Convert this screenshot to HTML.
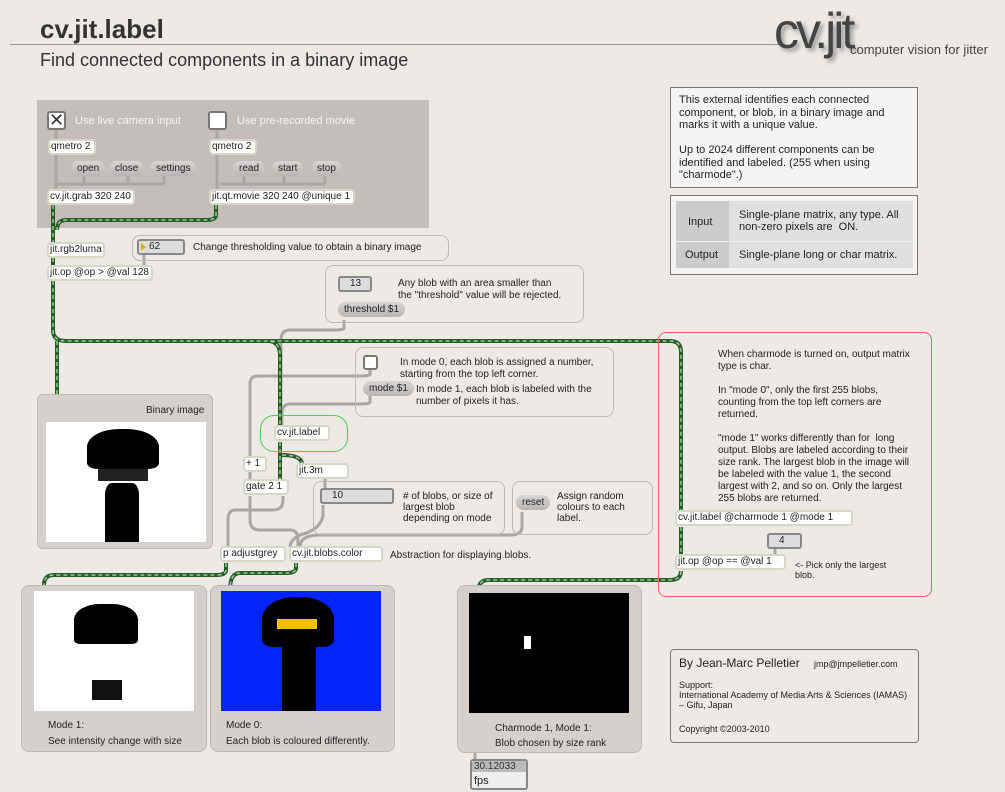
<!DOCTYPE html>
<html><head><meta charset="utf-8"><style>
*{margin:0;padding:0;box-sizing:border-box}
body{width:1005px;height:792px;background:#ede9e5;position:relative;overflow:hidden;font-family:"Liberation Sans",Arial,sans-serif;color:#222}
.a{position:absolute}
.t{position:absolute;font-size:10px;line-height:12px;white-space:nowrap}
.obj{position:absolute;height:16px;background:#fff;border:2px solid #d5d8c4;border-radius:4px;font-size:10px;line-height:12px;padding-left:1px;white-space:nowrap}
.msg{position:absolute;height:15px;background:linear-gradient(#d8d6d4,#b8b5b2);border-radius:8px;font-size:10px;line-height:15px;padding:0 6px;white-space:nowrap}
.num{position:absolute;height:16px;background:#ddd;border:2px solid #888;border-radius:3px;font-size:10px;line-height:12px;padding-left:10px}
.pan{position:absolute;border:1px solid #bbb;border-radius:8px}
.gp{position:absolute;background:#d5d0cc;border:1px solid #bdb8b4;border-radius:8px}
</style></head><body>
<div class="a" style="left:10px;top:44px;width:770px;height:1px;background:#999"></div>
<div class="t" style="left:40px;top:14px;font-size:26px;line-height:30px;font-weight:bold;color:#333">cv.jit.label</div>
<div class="t" style="left:40px;top:50px;font-size:18px;line-height:20px;color:#333">Find connected components in a binary image</div>
<div class="t" style="left:774px;top:3px;font-size:50px;line-height:56px;color:#444;text-shadow:3px 3px 4px #999;letter-spacing:-3px">cv.jit</div>
<div class="t" style="left:850px;top:43px;font-size:13px;line-height:14px;color:#444">computer vision for jitter</div>

<div class="a" style="left:670px;top:87px;width:248px;height:101px;background:#f6f4f2;border:1px solid #777"></div>
<div class="t" style="left:679px;top:94px;font-size:11px;line-height:12.5px">This external identifies each connected<br>component, or blob, in a binary image and<br>marks it with a unique value.<br><br>Up to 2024 different components can be<br>identified and labeled. (255 when using<br>"charmode".)</div>
<div class="a" style="left:670px;top:195px;width:248px;height:80px;background:#f6f4f2;border:1px solid #777"></div>
<div class="a" style="left:676px;top:201px;width:53px;height:67px;background:#ccc"></div>
<div class="a" style="left:729px;top:201px;width:184px;height:67px;background:#e2e0de"></div>
<div class="a" style="left:676px;top:241px;width:237px;height:1px;background:#eee"></div>
<div class="t" style="left:688px;top:216px;font-size:11px">Input</div>
<div class="t" style="left:739px;top:209px;font-size:11px">Single-plane matrix, any type. All<br>non-zero pixels are &nbsp;ON.</div>
<div class="t" style="left:685px;top:249px;font-size:11px">Output</div>
<div class="t" style="left:739px;top:249px;font-size:11px">Single-plane long or char matrix.</div>

<div class="a" style="left:37px;top:100px;width:392px;height:128px;background:#c4bebb"></div>
<div class="a" style="left:47px;top:111px;width:19px;height:19px;background:#fff;border:2px solid #777;border-radius:3px;font-size:18px;line-height:14px;text-align:center;color:#333">✕</div>
<div class="t" style="left:75px;top:115px;font-size:11px;color:#f4f4f4">Use live camera input</div>
<div class="a" style="left:208px;top:111px;width:19px;height:19px;background:#fff;border:2px solid #777;border-radius:3px"></div>
<div class="t" style="left:237px;top:115px;font-size:11px;color:#f4f4f4">Use pre-recorded movie</div>

<svg class="a" style="left:0;top:0" width="1005" height="792">
<g fill="none" stroke="#a9a6a3" stroke-width="3">
<path d="M56 130V189M84 176V182Q84 184 80 184H58M128 176V184M164 176V184M56 184H164"/>
<path d="M217 130V189M244 176V184M284 176V184M325 176V184M220 184H325"/>
<path d="M144 255V265"/>
<path d="M370 369V374Q370 376 360 376H258Q250 376 250 384V456"/>
<path d="M370 396V402Q370 404 360 404H290Q282 404 282 414V426"/>
<path d="M344 320V328Q344 330 334 330H290Q281 330 281 340V426"/>
<path d="M250 472V480M250 496V520Q250 530 260 530H290Q298 530 298 540V547"/>
<path d="M283 496V500Q283 510 273 510H235Q228 510 228 520V547"/>
<path d="M325 479V488M323 505V516Q320 530 300 535Q290 540 290 547"/>
<path d="M522 512V527Q522 535 510 535H320Q300 535 300 547"/>
<path d="M475 712V760"/>
<path d="M775 549V555"/>
</g>
<g fill="none">
<path d="M53 205V242M53 258V265M53 281V330Q53 341 66 341H670Q681 341 681 352V511M681 527V555M216 205V215Q216 220 206 220H66Q57 220 57 230M57 341V422M270 341Q280 343 280 355V426M280 442V480M282 455Q300 455 302 463M226 563V570Q226 575 216 575H54Q44 575 44 585M296 563V568Q296 573 286 573H240Q230 573 230 590M681 571Q681 580 670 580H488Q478 580 478 593" stroke="#2a5a2a" stroke-width="4"/>
<path d="M53 205V242M53 258V265M53 281V330Q53 341 66 341H670Q681 341 681 352V511M681 527V555M216 205V215Q216 220 206 220H66Q57 220 57 230M57 341V422M270 341Q280 343 280 355V426M280 442V480M282 455Q300 455 302 463M226 563V570Q226 575 216 575H54Q44 575 44 585M296 563V568Q296 573 286 573H240Q230 573 230 590M681 571Q681 580 670 580H488Q478 580 478 593" stroke="#8fcf8f" stroke-width="1.5" stroke-dasharray="4 3"/>
</g>
</svg>

<div class="obj" style="left:48px;top:139px;width:48px">qmetro 2</div>
<div class="obj" style="left:209px;top:139px;width:48px">qmetro 2</div>
<div class="msg" style="left:71px;top:161px">open</div>
<div class="msg" style="left:109px;top:161px">close</div>
<div class="msg" style="left:150px;top:161px">settings</div>
<div class="msg" style="left:233px;top:161px">read</div>
<div class="msg" style="left:272px;top:161px">start</div>
<div class="msg" style="left:311px;top:161px">stop</div>
<div class="obj" style="left:47px;top:189px;width:88px">cv.jit.grab 320 240</div>
<div class="obj" style="left:209px;top:189px;width:146px">jit.qt.movie 320 240 @unique 1</div>

<div class="obj" style="left:47px;top:242px;width:58px">jit.rgb2luma</div>
<div class="obj" style="left:47px;top:265px;width:106px">jit.op @op &gt; @val 128</div>
<div class="pan" style="left:132px;top:235px;width:317px;height:26px"></div>
<div class="num" style="left:137px;top:239px;width:48px">62</div>
<div class="a" style="left:141px;top:243px;width:0;height:0;border-left:5px solid #e0b000;border-top:4px solid transparent;border-bottom:4px solid transparent"></div>
<div class="t" style="left:193px;top:242px">Change thresholding value to obtain a binary image</div>

<div class="pan" style="left:325px;top:265px;width:259px;height:58px"></div>
<div class="num" style="left:338px;top:276px;width:34px">13</div>
<div class="msg" style="left:338px;top:302px">threshold $1</div>
<div class="t" style="left:398px;top:278px">Any blob with an area smaller than<br>the "threshold" value will be rejected.</div>

<div class="pan" style="left:355px;top:347px;width:259px;height:70px"></div>
<div class="a" style="left:363px;top:355px;width:15px;height:15px;background:#fff;border:2px solid #777;border-radius:3px"></div>
<div class="msg" style="left:363px;top:381px">mode $1</div>
<div class="t" style="left:400px;top:357px">In mode 0, each blob is assigned a number,<br>starting from the top left corner.</div>
<div class="t" style="left:416px;top:384px">In mode 1, each blob is labeled with the<br>number of pixels it has.</div>

<div class="a" style="left:260px;top:415px;width:88px;height:37px;border:1px solid #5c5;border-radius:14px"></div>
<div class="obj" style="left:274px;top:425px;width:56px">cv.jit.label</div>
<div class="obj" style="left:243px;top:456px;width:24px">+ 1</div>
<div class="obj" style="left:243px;top:479px;width:46px">gate 2 1</div>
<div class="obj" style="left:296px;top:463px;width:53px">jit.3m</div>

<div class="pan" style="left:313px;top:481px;width:192px;height:54px"></div>
<div class="num" style="left:320px;top:488px;width:74px">10</div>
<div class="t" style="left:403px;top:491px;line-height:11px"># of blobs, or size of<br>largest blob<br>depending on mode</div>
<div class="pan" style="left:512px;top:481px;width:141px;height:54px"></div>
<div class="msg" style="left:516px;top:495px">reset</div>
<div class="t" style="left:557px;top:491px;line-height:11px">Assign random<br>colours to each<br>label.</div>

<div class="obj" style="left:220px;top:546px;width:66px">p adjustgrey</div>
<div class="obj" style="left:289px;top:546px;width:94px">cv.jit.blobs.color</div>
<div class="t" style="left:390px;top:550px">Abstraction for displaying blobs.</div>

<div class="gp" style="left:37px;top:394px;width:176px;height:155px;border-radius:6px"></div>
<div class="t" style="left:146px;top:405px">Binary image</div>
<div class="a" style="left:46px;top:422px;width:160px;height:120px;background:#fff"></div>
<div class="a" style="left:87px;top:429px;width:72px;height:40px;background:#000;border-radius:45% 45% 15% 15%"></div>
<div class="a" style="left:98px;top:469px;width:50px;height:12px;background:#222"></div>
<div class="a" style="left:105px;top:483px;width:34px;height:59px;background:#000;border-radius:20% 20% 0 0"></div>

<div class="gp" style="left:21px;top:585px;width:186px;height:167px"></div>
<div class="a" style="left:34px;top:591px;width:160px;height:120px;background:#fff"></div>
<div class="a" style="left:74px;top:604px;width:64px;height:40px;background:#000;border-radius:40% 40% 10% 10%"></div>
<div class="a" style="left:92px;top:680px;width:30px;height:20px;background:#111"></div>
<div class="t" style="left:48px;top:720px">Mode 1:</div>
<div class="t" style="left:48px;top:736px">See intensity change with size</div>

<div class="gp" style="left:210px;top:585px;width:185px;height:167px"></div>
<div class="a" style="left:221px;top:591px;width:160px;height:120px;background:#0324fb"></div>
<div class="a" style="left:262px;top:597px;width:72px;height:50px;background:#000;border-radius:45% 45% 15% 15%"></div>
<div class="a" style="left:282px;top:647px;width:34px;height:64px;background:#000"></div>
<div class="a" style="left:277px;top:619px;width:40px;height:10px;background:#f0c000"></div>
<div class="t" style="left:226px;top:720px">Mode 0:</div>
<div class="t" style="left:226px;top:736px">Each blob is coloured differently.</div>

<div class="gp" style="left:457px;top:585px;width:185px;height:168px"></div>
<div class="a" style="left:469px;top:593px;width:160px;height:120px;background:#000"></div>
<div class="a" style="left:524px;top:636px;width:7px;height:13px;background:#fff"></div>
<div class="t" style="left:495px;top:723px">Charmode 1, Mode 1:</div>
<div class="t" style="left:495px;top:738px">Blob chosen by size rank</div>
<div class="a" style="left:470px;top:759px;width:58px;height:31px;border:2px solid #888;border-radius:3px;background:#eee"></div>
<div class="a" style="left:472px;top:761px;width:54px;height:11px;background:#bbb;font-size:10px;line-height:11px;padding-left:2px;color:#333">30.12033</div>
<div class="t" style="left:474px;top:775px;font-size:11px">fps</div>

<div class="a" style="left:658px;top:332px;width:274px;height:265px;border:1px solid #e66;border-radius:8px"></div>
<div class="t" style="left:718px;top:349px">When charmode is turned on, output matrix<br>type is char.<br><br>In "mode 0", only the first 255 blobs,<br>counting from the top left corners are<br>returned.<br><br>"mode 1" works differently than for &nbsp;long<br>output. Blobs are labeled according to their<br>size rank. The largest blob in the image will<br>be labeled with the value 1, the second<br>largest with 2, and so on. Only the largest<br>255 blobs are returned.</div>
<div class="obj" style="left:675px;top:510px;width:178px">cv.jit.label @charmode 1 @mode 1</div>
<div class="num" style="left:767px;top:533px;width:35px">4</div>
<div class="obj" style="left:675px;top:554px;width:111px">jit.op @op == @val 1</div>
<div class="t" style="left:795px;top:560px;font-size:9px;line-height:10px">&lt;- Pick only the largest<br>blob.</div>

<div class="a" style="left:670px;top:649px;width:249px;height:94px;border:1px solid #777;border-radius:4px"></div>
<div class="t" style="left:679px;top:656px;font-size:12px;line-height:14px">By Jean-Marc Pelletier</div>
<div class="t" style="left:814px;top:658px;font-size:9px">jmp@jmpelletier.com</div>
<div class="t" style="left:679px;top:680px;font-size:9px;line-height:10px">Support:<br>International Academy of Media Arts &amp; Sciences (IAMAS)<br>– Gifu, Japan</div>
<div class="t" style="left:679px;top:723px;font-size:9px">Copyright ©2003-2010</div>
</body></html>
